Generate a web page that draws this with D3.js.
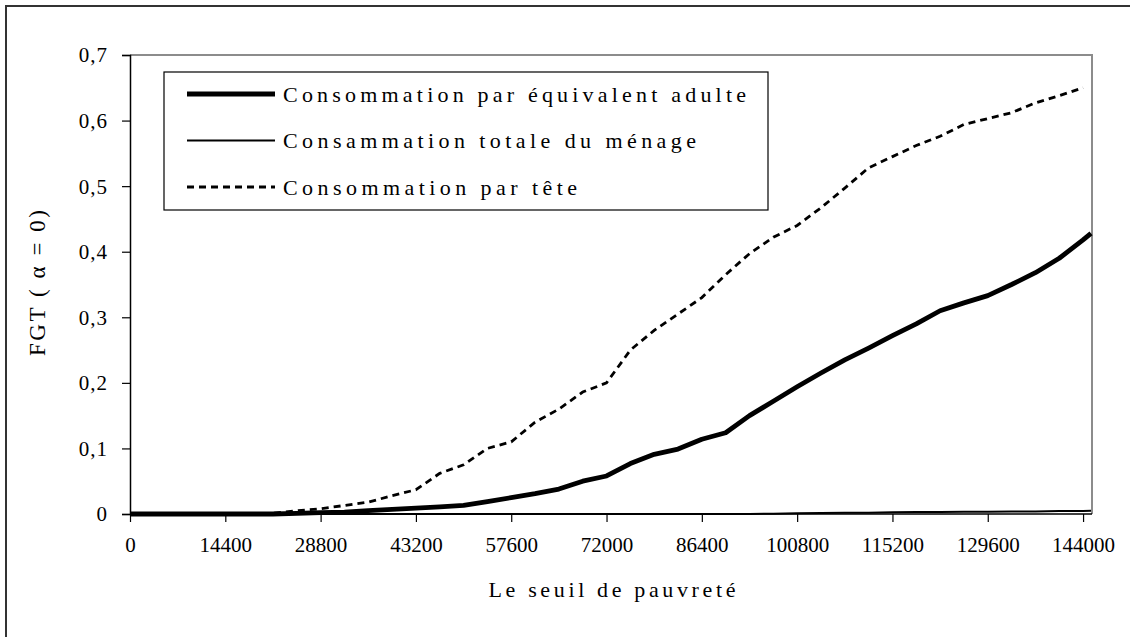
<!DOCTYPE html>
<html>
<head>
<meta charset="utf-8">
<script src="https://cdn.jsdelivr.net/npm/d3@7"></script>
<style>
  body { margin: 0; background: #fff; }
  text { font-family: "Liberation Serif", "Times New Roman", serif; fill: #000; }
</style>
</head>
<body>
<svg id="chart" width="1130" height="637"></svg>
<script>
// seuil de pauvrete (x), every 3600 up to 144000, plus last point
const seuil = [0,3600,7200,10800,14400,18000,21600,25200,28800,32400,36000,39600,43200,46800,50400,54000,57600,61200,64800,68400,72000,75600,79200,82800,86400,90000,93600,97200,100800,104400,108000,111600,115200,118800,122400,126000,129600,133200,136800,140400,144000,145200];

const parAdulte = [0,0,0,0,0,0,0,0.001,0.002,0.003,0.005,0.007,0.009,0.011,0.013,0.019,0.025,0.031,0.038,0.05,0.058,0.077,0.091,0.099,0.114,0.124,0.15,0.172,0.194,0.215,0.235,0.253,0.272,0.29,0.31,0.322,0.333,0.35,0.368,0.39,0.418,0.428];
const menage = [0,0,0,0,0,0,0,0,0,0,0,0,0,0,0,0,0,0,0,0,0,0,0,0,0,0,0,0.0005,0.001,0.0015,0.002,0.002,0.0025,0.003,0.003,0.0035,0.0035,0.004,0.004,0.0045,0.0045,0.005];
const parTete = [0,0,0,0,0,0,0.001,0.005,0.008,0.013,0.018,0.028,0.037,0.062,0.075,0.1,0.11,0.14,0.16,0.186,0.2,0.25,0.28,0.305,0.33,0.365,0.397,0.422,0.44,0.467,0.497,0.528,0.545,0.562,0.576,0.594,0.603,0.612,0.627,0.638,0.65];

const xTicks = [0,14400,28800,43200,57600,72000,86400,100800,115200,129600,144000];
const yTicks = [0,0.1,0.2,0.3,0.4,0.5,0.6,0.7];
const yTickLabels = ["0","0,1","0,2","0,3","0,4","0,5","0,6","0,7"];

const seriesNames = ["Consommation par équivalent adulte","Consammation totale du ménage","Consommation par tête"];

const svg = d3.select("#chart");

// cadre exterieur
svg.append("rect")
  .attr("x",6).attr("y",6)
  .attr("width",1140).attr("height",650)
  .attr("fill","#fff").attr("stroke","#333").attr("stroke-width",2);

const plotL = 130, plotR = 1092, plotT = 55, plotB = 514;

const x = d3.scaleLinear().domain([0,145350]).range([plotL,plotR]);
const y = d3.scaleLinear().domain([0,0.7]).range([plotB,plotT]);

// bordure grise du plot
svg.append("path")
  .attr("d",`M${plotL},${plotT}H${plotR}V${plotB}`)
  .attr("fill","none").attr("stroke","#8c8c8c").attr("stroke-width",2);

// axe Y
const yAxis = d3.axisLeft(y).tickValues(yTicks)
  .tickFormat((d,i)=>yTickLabels[i]).tickSize(8).tickPadding(14);
const gy = svg.append("g").attr("transform",`translate(${plotL},0)`).call(yAxis);
gy.select(".domain").attr("stroke","#000").attr("stroke-width",1.5);
gy.selectAll(".tick line").attr("stroke","#000").attr("stroke-width",1.2);
gy.selectAll(".tick text").attr("font-size",21).attr("font-family","Liberation Serif")
  .attr("letter-spacing",1).attr("dy","0.33em");

// axe X
const xAxis = d3.axisBottom(x).tickValues(xTicks).tickFormat(d3.format("d"))
  .tickSize(8).tickPadding(15);
const gx = svg.append("g").attr("transform",`translate(0,${plotB})`).call(xAxis);
gx.select(".domain").attr("stroke","#000").attr("stroke-width",1.5)
  .attr("d",`M${plotL},0H${plotR}`);
gx.selectAll(".tick line").attr("stroke","#000").attr("stroke-width",1.2);
gx.selectAll(".tick text").attr("font-size",21).attr("font-family","Liberation Serif");

// titres
svg.append("text")
  .attr("x",612).attr("y",597)
  .attr("text-anchor","middle")
  .attr("font-size",22)
  .attr("textLength",247).attr("lengthAdjust","spacing")
  .text("Le seuil de pauvreté");

svg.append("text")
  .attr("transform","translate(45,283) rotate(-90)")
  .attr("text-anchor","middle")
  .attr("font-size",23)
  .attr("textLength",146).attr("lengthAdjust","spacing")
  .text("FGT ( α = 0)");

// courbes
const line = d3.line().x((d,i)=>x(seuil[i])).y(d=>y(d));

svg.append("path").datum(menage)
  .attr("d",line).attr("fill","none")
  .attr("stroke","#000").attr("stroke-width",2);

svg.append("path").datum(parTete)
  .attr("d",line).attr("fill","none")
  .attr("stroke","#000").attr("stroke-width",2.8)
  .attr("stroke-dasharray","7,5");

svg.append("path").datum(parAdulte)
  .attr("d",line).attr("fill","none")
  .attr("stroke","#000").attr("stroke-width",4.8)
  .attr("stroke-linejoin","round");

// legende
const legend = svg.append("g");
legend.append("rect")
  .attr("x",164).attr("y",72).attr("width",604).attr("height",138)
  .attr("fill","#fff").attr("stroke","#000").attr("stroke-width",1.2);

const legStyles = [
  {w:4.8, dash:null, len:463},
  {w:2, dash:null, len:413},
  {w:2.8, dash:"7,5", len:294}
];
const legY = d3.scalePoint().domain(seriesNames).range([94,187]);

seriesNames.forEach((name,i)=>{
  const yy = legY(name);
  legend.append("line")
    .attr("x1",187).attr("x2",275).attr("y1",yy).attr("y2",yy)
    .attr("stroke","#000").attr("stroke-width",legStyles[i].w)
    .attr("stroke-dasharray",legStyles[i].dash);
  legend.append("text")
    .attr("x",283).attr("y",yy).attr("dy","0.35em")
    .attr("font-size",22)
    .attr("textLength",legStyles[i].len).attr("lengthAdjust","spacing")
    .text(name);
});
</script>
</body>
</html>
